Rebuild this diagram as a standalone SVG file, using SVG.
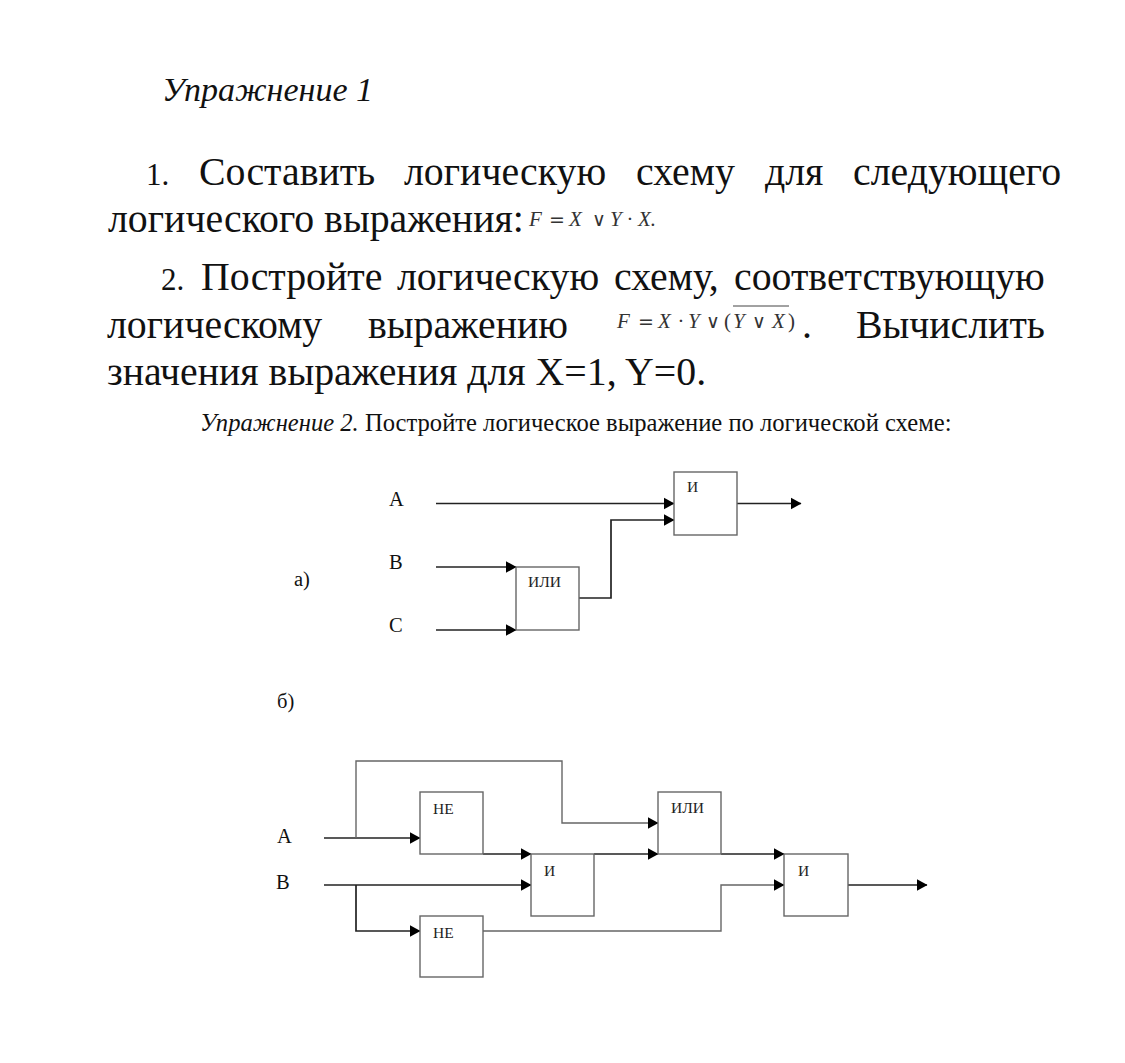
<svg xmlns="http://www.w3.org/2000/svg" width="1125" height="1063" viewBox="0 0 1125 1063">
<defs>
<marker id="ah" markerUnits="userSpaceOnUse" markerWidth="12" markerHeight="13" refX="10.500" refY="6.500" orient="auto"><path d="M0 0.500L11 6.500L0 12.500Z" fill="#000"/></marker>
</defs>
<style>
text{font-family:"Liberation Serif","Times New Roman",serif;fill:#111}
.h{font-size:34px;font-style:italic}
.b{font-size:39.800px}
.n{font-size:31px}
.f{font-size:21px;font-style:italic;fill:#333}
.p{font-size:21px;fill:#333}
.o{font-size:19px;font-family:"DejaVu Sans",sans-serif;fill:#333}
.s{font-size:24.600px}
.l{font-size:20.500px}
.g{font-size:15.500px;fill:#222}
.box{fill:#fff;stroke:#666;stroke-width:1.400}
.w{fill:none;stroke:#222;stroke-width:1.700}
.w2{fill:none;stroke:#666;stroke-width:1.400}
</style>
<rect width="1125" height="1063" fill="#fff"/>
<g id="text">
<text x="162" y="101" class="h">Упражнение 1</text>
<text x="146" y="185" class="n">1.</text>
<text x="199" y="185" class="b">Составить</text>
<text x="404" y="185" class="b">логическую</text>
<text x="636" y="185" class="b">схему</text>
<text x="765" y="185" class="b">для</text>
<text x="853" y="185" class="b">следующего</text>
<text x="108" y="232" class="b">логического выражения:</text>
<g id="formula1">
<text x="529" y="226" class="f">F</text><text x="549" y="226" class="o">=</text><text x="569" y="226" class="f">X</text><text x="592" y="226" class="o">∨</text><text x="610" y="226" class="f">Y</text><text x="627" y="226" class="f">·</text><text x="638" y="226" class="f">X.</text>
</g>
<text x="161" y="290" class="n">2.</text>
<text x="201" y="290" class="b">Постройте</text>
<text x="397" y="290" class="b">логическую</text>
<text x="614" y="290" class="b">схему,</text>
<text x="734" y="290" class="b">соответствующую</text>
<text x="107" y="338" class="b">логическому</text>
<text x="368" y="338" class="b">выражению</text>
<g id="formula2">
<text x="617" y="328" class="f">F</text><text x="638" y="328" class="o">=</text><text x="658" y="328" class="f">X</text><text x="678" y="328" class="f">·</text><text x="688" y="328" class="f">Y</text><text x="706" y="328" class="o">∨</text><text x="724" y="328" class="p">(</text><text x="733" y="328" class="f">Y</text><text x="752" y="328" class="o">∨</text><text x="772" y="328" class="f">X</text><text x="788" y="328" class="p">)</text>
<line x1="733" y1="306" x2="789" y2="306" stroke="#444" stroke-width="1"/>
</g>
<text x="802" y="338" class="b">.</text>
<text x="856" y="338" class="b">Вычислить</text>
<text x="107" y="385" class="b">значения выражения для X=1, Y=0.</text>
<text x="200" y="431" class="s"><tspan font-style="italic">Упражнение 2.</tspan> Постройте логическое выражение по логической схеме:</text>
<text x="389" y="506" class="l">A</text>
<text x="389" y="569" class="l">B</text>
<text x="389" y="632" class="l">C</text>
<text x="294" y="586" class="l">а)</text>
<text x="277" y="708" class="l">б)</text>
<text x="277" y="843" class="l">A</text>
<text x="276" y="889" class="l">B</text>
</g>
<g id="connectors">
<path class="w" marker-end="url(#ah)" d="M436 503.500H674"/>
<path class="w" marker-end="url(#ah)" d="M579 598H611V520H674"/>
<path class="w" marker-end="url(#ah)" d="M436 567H516"/>
<path class="w" marker-end="url(#ah)" d="M436 630H516"/>
<path class="w" marker-end="url(#ah)" d="M737 503.500H801"/>
<path class="w" marker-end="url(#ah)" d="M324 838H420"/>
<path class="w2" marker-end="url(#ah)" d="M356 838V761H562V823H658"/>
<path class="w" marker-end="url(#ah)" d="M483 854H531"/>
<path class="w" marker-end="url(#ah)" d="M594 854H658"/>
<path class="w" marker-end="url(#ah)" d="M721 854H784"/>
<path class="w" marker-end="url(#ah)" d="M324 885H531"/>
<path class="w" marker-end="url(#ah)" d="M356 885V931H420"/>
<path class="w2" marker-end="url(#ah)" d="M483 931H721V885H784"/>
<path class="w" marker-end="url(#ah)" d="M848 885H927"/>
</g>
<g id="a-and"><rect class="box" x="674" y="472" width="63" height="63"/><text x="687" y="492" class="g">И</text></g>
<g id="a-or"><rect class="box" x="516" y="567" width="63" height="63"/><text x="528" y="587" class="g">ИЛИ</text></g>
<g id="b-not1"><rect class="box" x="420" y="792" width="63" height="62"/><text x="433" y="814" class="g">НЕ</text></g>
<g id="b-and1"><rect class="box" x="531" y="854" width="63" height="62"/><text x="544" y="876" class="g">И</text></g>
<g id="b-or"><rect class="box" x="658" y="792" width="63" height="62"/><text x="671" y="813" class="g">ИЛИ</text></g>
<g id="b-and2"><rect class="box" x="784" y="854" width="64" height="62"/><text x="798" y="876" class="g">И</text></g>
<g id="b-not2"><rect class="box" x="420" y="916" width="63" height="61"/><text x="433" y="938" class="g">НЕ</text></g>
</svg>
